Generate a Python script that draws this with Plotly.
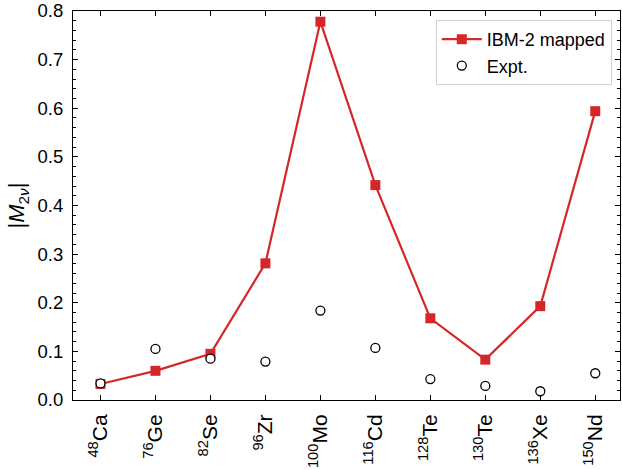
import plotly.graph_objects as go

nuclei = ["Ca", "Ge", "Se", "Zr", "Mo", "Cd", "Te", "Te", "Xe", "Nd"]
mass_numbers = ["48", "76", "82", "96", "100", "116", "128", "130", "136", "150"]
ibm2_mapped = [0.033, 0.060, 0.095, 0.281, 0.778, 0.442, 0.168, 0.083, 0.193, 0.594]
expt = [0.034, 0.105, 0.085, 0.079, 0.184, 0.107, 0.043, 0.029, 0.018, 0.055]

idx = list(range(len(nuclei)))
ticktext = [f"<sup>{a}</sup>{n}" for a, n in zip(mass_numbers, nuclei)]

FONT = "Liberation Sans, Arial, sans-serif"
RED = "#d62728"

fig = go.Figure()
fig.add_trace(go.Scatter(
    x=idx, y=ibm2_mapped, mode="lines+markers", name="IBM-2 mapped",
    line=dict(color=RED, width=2.2),
    marker=dict(symbol="square", size=10, color=RED),
))
fig.add_trace(go.Scatter(
    x=idx, y=expt, mode="markers", name="Expt.",
    marker=dict(symbol="circle", size=9, color="white",
                line=dict(color="black", width=1.3)),
))

fig.update_layout(
    width=622, height=470,
    margin=dict(l=72.5, r=2, t=11, b=70),
    paper_bgcolor="white", plot_bgcolor="white",
    font=dict(family=FONT, size=18, color="black"),
    showlegend=True,
    legend=dict(
        x=0.985, y=0.977, xanchor="right", yanchor="top",
        bordercolor="#d0d0d0", borderwidth=1, bgcolor="rgba(255,255,255,0.8)",
        font=dict(family=FONT, size=18, color="black"),
        tracegroupgap=2, itemwidth=40,
    ),
)

fig.update_xaxes(
    range=[-0.5, 9.45], automargin=False,
    tickmode="array", tickvals=idx, ticktext=ticktext,
    tickangle=-90,
    tickfont=dict(family=FONT, size=21, color="black"),
    showgrid=False, zeroline=False,
    showline=True, linecolor="black", linewidth=1, mirror="ticks",
    ticks="inside", ticklen=5, tickwidth=1, tickcolor="black",
    ticklabelstandoff=5,
)
fig.update_yaxes(
    range=[0, 0.8], automargin=False,
    tickmode="linear", tick0=0, dtick=0.1, tickformat=".1f",
    tickfont=dict(family=FONT, size=18.5, color="black"),
    showgrid=False, zeroline=False,
    showline=True, linecolor="black", linewidth=1, mirror="ticks",
    ticks="inside", ticklen=5, tickwidth=1, tickcolor="black",
    minor=dict(ticks="inside", ticklen=3, tickwidth=1, tickcolor="black", dtick=0.02, showgrid=False),
    title=dict(text="|<i>M</i><sub>2<i>ν</i></sub>|", font=dict(family=FONT, size=22, color="black"), standoff=6),
    ticklabelstandoff=5,
)

fig.write_html("out.html")
